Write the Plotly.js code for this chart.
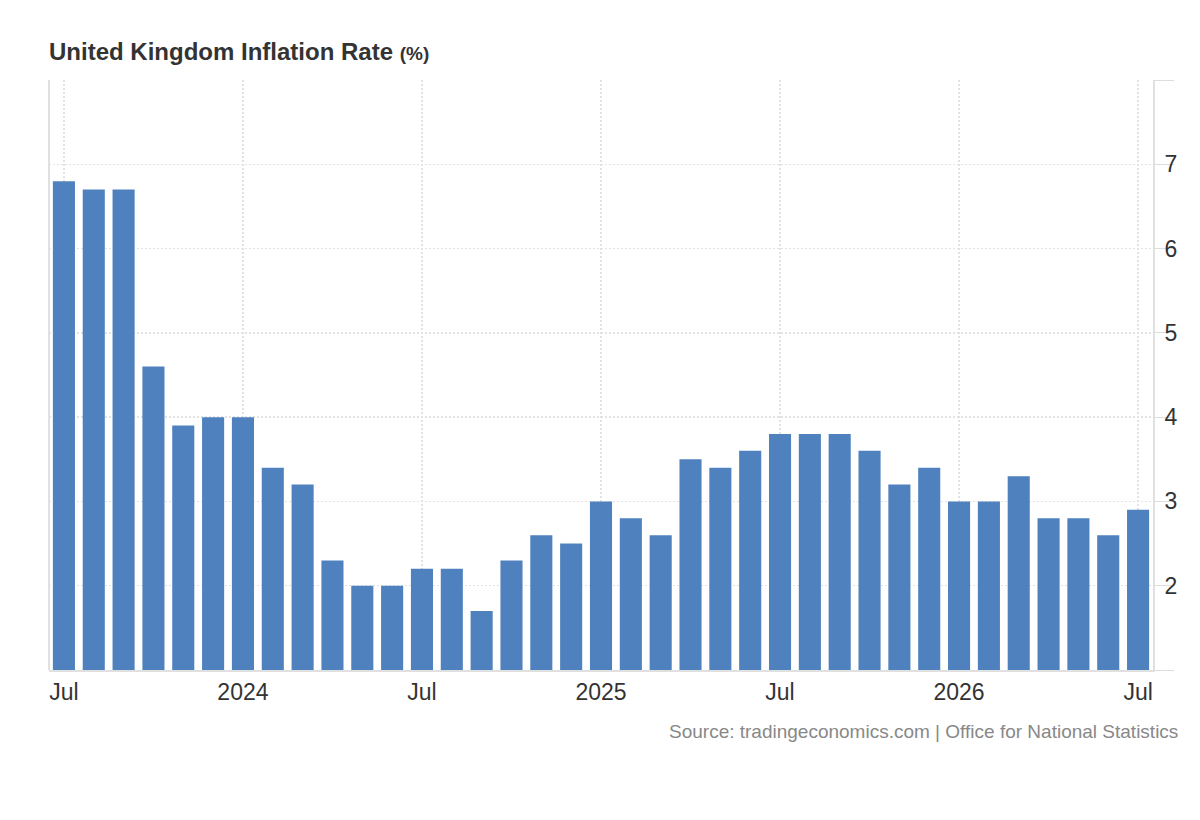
<!DOCTYPE html>
<html>
<head>
<meta charset="utf-8">
<script src="https://cdn.plot.ly/plotly-3.0.1.min.js"></script>
<style>
  html, body { margin: 0; padding: 0; background: #ffffff; }
  #chart { width: 1200px; height: 820px; }
</style>
</head>
<body>
<div id="chart"></div>
<script>
const months = [
  "2023-07","2023-08","2023-09","2023-10","2023-11","2023-12",
  "2024-01","2024-02","2024-03","2024-04","2024-05","2024-06",
  "2024-07","2024-08","2024-09","2024-10","2024-11","2024-12",
  "2025-01","2025-02","2025-03","2025-04","2025-05","2025-06",
  "2025-07","2025-08","2025-09","2025-10","2025-11","2025-12",
  "2026-01","2026-02","2026-03","2026-04","2026-05","2026-06",
  "2026-07"
];
const inflation = [
  6.8, 6.7, 6.7, 4.6, 3.9, 4.0,
  4.0, 3.4, 3.2, 2.3, 2.0, 2.0,
  2.2, 2.2, 1.7, 2.3, 2.6, 2.5,
  3.0, 2.8, 2.6, 3.5, 3.4, 3.6,
  3.8, 3.8, 3.8, 3.6, 3.2, 3.4,
  3.0, 3.0, 3.3, 2.8, 2.8, 2.6,
  2.9
];
const xTickVals = ["2023-07","2024-01","2024-07","2025-01","2025-07","2026-01","2026-07"];
const xTickText = ["Jul","2024","Jul","2025","Jul","2026","Jul"];
const yTickVals = [1, 2, 3, 4, 5, 6, 7, 8];
const yTickText = ["", "2", "3", "4", "5", "6", "7", ""];

const FONT = "Liberation Sans, Arial, Helvetica, sans-serif";

const trace = {
  type: "bar",
  x: months,
  y: inflation,
  marker: { color: "#4e81bd" },
  hoverinfo: "x+y"
};

const layout = {
  width: 1200,
  height: 820,
  paper_bgcolor: "#ffffff",
  plot_bgcolor: "#ffffff",
  margin: { l: 49, r: 47, t: 80, b: 150 },
  showlegend: false,
  bargap: 0.26,
  font: { family: FONT, color: "#333333" },
  title: {
    text: "<b>United Kingdom Inflation Rate</b> <b><span style='font-size:19px'>(%)</span></b>",
    font: { family: FONT, size: 24, color: "#333333" },
    xref: "paper", x: 0, xanchor: "left",
    yref: "container", y: 1 - 52 / 820, yanchor: "middle"
  },
  xaxis: {
    type: "category",
    range: [-0.5, months.length - 0.5],
    tickmode: "array",
    tickvals: xTickVals,
    ticktext: xTickText,
    ticks: "",
    tickfont: { family: FONT, size: 23, color: "#333333" },
    showgrid: true,
    gridcolor: "#e2e2e2",
    griddash: "2px,2px",
    gridwidth: 1.5,
    showline: true,
    linecolor: "#e0e0e0",
    linewidth: 2,
    zeroline: false,
    fixedrange: true
  },
  yaxis: {
    side: "right",
    range: [1, 8],
    tickmode: "array",
    tickvals: yTickVals,
    ticktext: yTickText,
    ticks: "outside",
    ticklen: 19,
    tickwidth: 1,
    tickcolor: "#dddddd",
    ticklabelstandoff: -14,
    tickfont: { family: FONT, size: 23, color: "#333333" },
    showgrid: true,
    gridcolor: "#e2e2e2",
    griddash: "2px,2px",
    gridwidth: 1.5,
    showline: true,
    linecolor: "#e0e0e0",
    linewidth: 2,
    zeroline: false,
    fixedrange: true
  },
  shapes: [
    {
      type: "line", xref: "paper", yref: "paper",
      x0: 0, x1: 0, y0: 0, y1: 1,
      line: { color: "#e0e0e0", width: 2 }
    }
  ],
  annotations: [
    {
      text: "Source: tradingeconomics.com | Office for National Statistics",
      xref: "paper", yref: "paper",
      x: (1180 - 49) / 1104, xanchor: "right",
      y: (670 - 732) / 590, yanchor: "middle",
      showarrow: false,
      font: { family: FONT, size: 19, color: "#888888" }
    }
  ]
};

Plotly.newPlot("chart", [trace], layout, { displayModeBar: false, staticPlot: true });
</script>
</body>
</html>
